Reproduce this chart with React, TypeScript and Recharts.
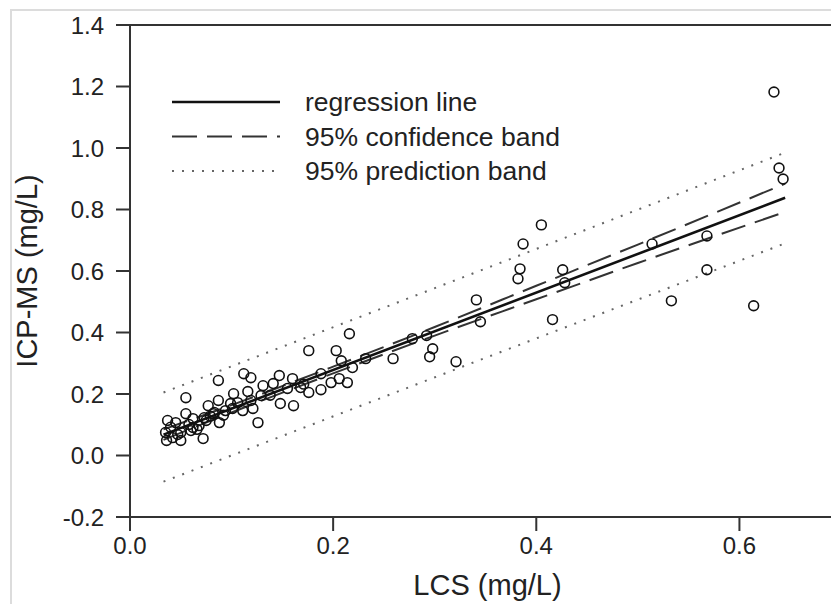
import React from 'react';
import {
  ComposedChart,
  Scatter,
  Line,
  XAxis,
  YAxis,
  ReferenceLine,
} from 'recharts';

// measured points (LCS vs ICP-MS, mg/L)
const lcs = [
  0.634, 0.639, 0.643, 0.514, 0.568, 0.568, 0.533, 0.614, 0.405, 0.387,
  0.384, 0.382, 0.341, 0.345, 0.426, 0.428, 0.416, 0.292, 0.216, 0.176,
  0.203, 0.208, 0.219, 0.232, 0.259, 0.278, 0.298, 0.295, 0.214, 0.206,
  0.188, 0.188, 0.176, 0.198, 0.112, 0.119, 0.087, 0.147, 0.160, 0.141,
  0.131, 0.168, 0.102, 0.116, 0.155, 0.087, 0.077, 0.094, 0.101, 0.111,
  0.121, 0.148, 0.161, 0.119, 0.129, 0.073, 0.083, 0.088, 0.126, 0.055,
  0.099, 0.037, 0.045, 0.055, 0.062, 0.068, 0.075, 0.082, 0.035, 0.042,
  0.050, 0.060, 0.036, 0.050, 0.072, 0.062, 0.321, 0.040, 0.047, 0.058,
  0.066, 0.079, 0.092, 0.106, 0.138, 0.171,
];
const icpms = [
  1.182, 0.935, 0.899, 0.688, 0.714, 0.604, 0.503, 0.487, 0.750, 0.688,
  0.607, 0.575, 0.506, 0.435, 0.604, 0.562, 0.442, 0.390, 0.396, 0.341,
  0.341, 0.308, 0.286, 0.315, 0.315, 0.380, 0.347, 0.321, 0.237, 0.250,
  0.266, 0.214, 0.205, 0.237, 0.266, 0.253, 0.244, 0.260, 0.250, 0.234,
  0.227, 0.221, 0.201, 0.208, 0.218, 0.179, 0.162, 0.146, 0.153, 0.146,
  0.153, 0.169, 0.162, 0.179, 0.195, 0.123, 0.140, 0.107, 0.107, 0.188,
  0.169, 0.114, 0.107, 0.136, 0.120, 0.097, 0.114, 0.136, 0.075, 0.058,
  0.075, 0.081, 0.049, 0.049, 0.055, 0.091, 0.305, 0.092, 0.068, 0.101,
  0.085, 0.128, 0.131, 0.172, 0.196, 0.232,
];

// regression line end points
const regX = [0.033, 0.645];
const regY = [0.068, 0.838];

// 95% confidence band
const confX = [0.033, 0.1, 0.2, 0.3, 0.4, 0.5, 0.645];
const confUpper = [0.085, 0.164, 0.289, 0.418, 0.552, 0.686, 0.884];
const confLower = [0.051, 0.14, 0.267, 0.39, 0.508, 0.626, 0.792];

// 95% prediction band
const predX = [0.033, 0.34, 0.645];
const predUpper = [0.205, 0.595, 0.985];
const predLower = [-0.085, 0.305, 0.69];

const xTicks = [0, 0.2, 0.4, 0.6];
const yTicks = [-0.2, 0, 0.2, 0.4, 0.6, 0.8, 1.0, 1.2, 1.4];

const legendItems = [
  { label: 'regression line', dash: undefined, width: 2.6, color: '#111' },
  { label: '95% confidence band', dash: '25 10', width: 2, color: '#333' },
  { label: '95% prediction band', dash: '2 8', width: 2, color: '#666' },
];

const FONT = '"Liberation Sans", Arial, Helvetica, sans-serif';

const zip = (xs: number[], ys: number[]) => xs.map((x, i) => ({ x, y: ys[i] }));

const points = zip(lcs, icpms);
const regression = zip(regX, regY);
const confUp = zip(confX, confUpper);
const confLo = zip(confX, confLower);
const predUp = zip(predX, predUpper);
const predLo = zip(predX, predLower);

const Circle = (props: any) => {
  const { cx, cy } = props;
  if (cx == null || cy == null) return null;
  return <circle cx={cx} cy={cy} r={4.9} fill="none" stroke="#111" strokeWidth={1.6} />;
};

const LegendBox = () => (
  <svg
    width={440}
    height={110}
    style={{ position: 'absolute', left: 165, top: 85, fontFamily: FONT }}
  >
    {legendItems.map((it, i) => {
      const y = 17 + i * 34.5;
      return (
        <g key={it.label}>
          <line
            x1={7}
            x2={115}
            y1={y}
            y2={y}
            stroke={it.color}
            strokeWidth={it.width}
            strokeDasharray={it.dash}
          />
          <text x={140} y={y} dominantBaseline="central" fontSize={26.5} fill="#222">
            {it.label}
          </text>
        </g>
      );
    })}
  </svg>
);

export default function App() {
  const tick = { fontSize: 24, fill: '#222', fontFamily: FONT };
  return (
    <div
      style={{
        position: 'absolute',
        left: 0,
        top: 0,
        width: 831,
        height: 604,
        overflow: 'hidden',
        background: '#fff',
      }}
    >
      <div
        style={{
          position: 'absolute',
          left: 10,
          top: 9,
          right: 0,
          bottom: 0,
          borderLeft: '2px solid #dcdcdc',
          borderTop: '2px solid #dcdcdc',
        }}
      />
      <ComposedChart
        width={860}
        height={604}
        margin={{ top: 25, right: 19, left: 30, bottom: 27 }}
        style={{ position: 'absolute', left: 0, top: 0 }}
      >
        <XAxis
          type="number"
          dataKey="x"
          domain={[0, 0.7]}
          ticks={xTicks}
          allowDataOverflow
          tickFormatter={(v: number) => v.toFixed(1)}
          tick={tick}
          tickSize={14}
          tickMargin={6}
          height={60}
          stroke="#333"
          strokeWidth={2}
          label={{
            content: ({ viewBox }: any) => (
              <text
                x={viewBox.x + viewBox.width / 2 + 2}
                y={585}
                textAnchor="middle"
                dominantBaseline="central"
                fontSize={29}
                fill="#222"
                fontFamily={FONT}
              >
                LCS (mg/L)
              </text>
            ),
          }}
        />
        <YAxis
          type="number"
          dataKey="y"
          domain={[-0.2, 1.4]}
          ticks={yTicks}
          allowDataOverflow
          tickFormatter={(v: number) => v.toFixed(1)}
          tick={tick}
          tickSize={14}
          tickMargin={12}
          width={100}
          stroke="#333"
          strokeWidth={2}
          label={{
            content: ({ viewBox }: any) => {
              const cy = viewBox.y + viewBox.height / 2;
              return (
                <text
                  x={27}
                  y={cy}
                  transform={`rotate(-90 27 ${cy})`}
                  textAnchor="middle"
                  dominantBaseline="central"
                  fontSize={29}
                  fill="#222"
                  fontFamily={FONT}
                >
                  ICP-MS (mg/L)
                </text>
              );
            },
          }}
        />
        <ReferenceLine y={1.4} stroke="#333" strokeWidth={2} ifOverflow="visible" />
        <Line
          data={predUp}
          dataKey="y"
          type="linear"
          stroke="#666"
          strokeWidth={2}
          strokeDasharray="2 8"
          dot={false}
          activeDot={false}
          isAnimationActive={false}
        />
        <Line
          data={predLo}
          dataKey="y"
          type="linear"
          stroke="#666"
          strokeWidth={2}
          strokeDasharray="2 8"
          dot={false}
          activeDot={false}
          isAnimationActive={false}
        />
        <Line
          data={confUp}
          dataKey="y"
          type="monotone"
          stroke="#333"
          strokeWidth={2}
          strokeDasharray="25 10"
          dot={false}
          activeDot={false}
          isAnimationActive={false}
        />
        <Line
          data={confLo}
          dataKey="y"
          type="monotone"
          stroke="#333"
          strokeWidth={2}
          strokeDasharray="25 10"
          dot={false}
          activeDot={false}
          isAnimationActive={false}
        />
        <Line
          data={regression}
          dataKey="y"
          type="linear"
          stroke="#111"
          strokeWidth={2.6}
          dot={false}
          activeDot={false}
          isAnimationActive={false}
        />
        <Scatter data={points} dataKey="y" shape={<Circle />} isAnimationActive={false} />
      </ComposedChart>
      <LegendBox />
    </div>
  );
}
